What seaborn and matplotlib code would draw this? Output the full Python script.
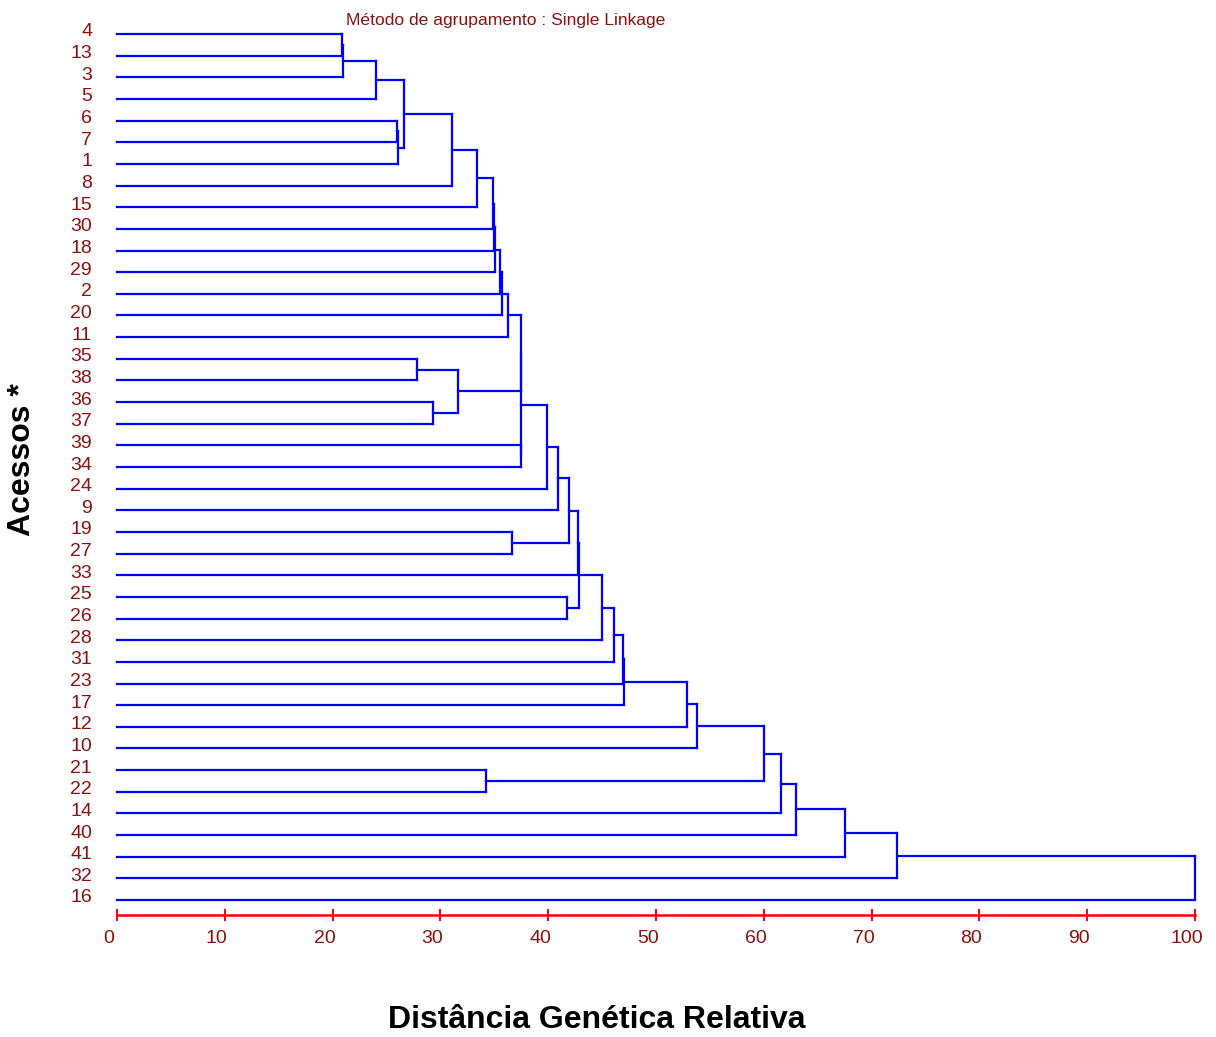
import matplotlib
matplotlib.use("Agg")
import matplotlib.pyplot as plt
import matplotlib.transforms as mtransforms
import seaborn as sns
import pandas as pd

# ---------------- data ----------------
leaves = ["4", "13", "3", "5", "6", "7", "1", "8", "15", "30", "18", "29", "2", "20",
          "11", "35", "38", "36", "37", "39", "34", "24", "9", "19", "27", "33", "25",
          "26", "28", "31", "23", "17", "12", "10", "21", "22", "14", "40", "41", "32", "16"]

merge_left = ["4", "m0", "m1", "6", "m3", "m2", "m5", "m6", "m7", "m8", "m9", "m10",
              "m11", "m12", "35", "36", "m14", "m13", "39", "m17", "m19", "m20", "19",
              "m21", "25", "m23", "m25", "m26", "m27", "m28", "m29", "m30", "m31", "21",
              "m32", "m34", "m35", "m36", "m37", "m38"]
merge_right = ["13", "3", "5", "7", "1", "m4", "8", "15", "30", "18", "29", "2",
               "20", "11", "38", "37", "m15", "m16", "34", "m18", "24", "9", "27",
               "m22", "26", "33", "m24", "28", "31", "23", "17", "12", "10", "22",
               "m33", "14", "40", "41", "32", "16"]
merge_height = [20.9, 21.0, 24.0, 26.0, 26.1, 26.6, 31.1, 33.4, 34.9, 35.0, 35.1, 35.5,
                35.7, 36.3, 27.8, 29.3, 31.6, 37.5, 37.5, 37.5, 39.9, 40.9, 36.6,
                41.9, 41.7, 42.8, 42.9, 45.0, 46.1, 46.9, 47.0, 52.9, 53.8, 34.2,
                60.0, 61.6, 63.0, 67.5, 72.4, 100.0]

x_ticks = [0, 10, 20, 30, 40, 50, 60, 70, 80, 90, 100]
title_text = "Método de agrupamento : Single Linkage"
x_label = "Distância Genética Relativa"
y_label = "Acessos *"

# ---------------- build dendrogram segments ----------------
pos = {name: float(i) for i, name in enumerate(leaves)}
hgt = {name: 0.0 for name in leaves}
rows = []
seg = 0
for k, (a, b, h) in enumerate(zip(merge_left, merge_right, merge_height)):
    ya, yb = pos[a], pos[b]
    for (x0, y0, x1, y1) in [(hgt[a], ya, h, ya), (hgt[b], yb, h, yb), (h, ya, h, yb)]:
        rows.append({"x": x0, "y": y0, "seg": seg})
        rows.append({"x": x1, "y": y1, "seg": seg})
        seg += 1
    name = f"m{k}"
    pos[name] = (ya + yb) / 2.0
    hgt[name] = h
df = pd.DataFrame(rows)

# ---------------- figure ----------------
sns.set_theme(style="white")
plt.rcParams["font.family"] = ["Liberation Sans Narrow", "Liberation Sans", "DejaVu Sans"]

W, H = 1216, 1037
fig = plt.figure(figsize=(W / 100, H / 100), dpi=100)
left_px, right_px, top_px, bot_px = 117, 1195, 20, 915
ax = fig.add_axes([left_px / W, 1 - bot_px / H, (right_px - left_px) / W, (bot_px - top_px) / H])

sns.lineplot(data=df, x="x", y="y", units="seg", estimator=None, sort=False,
             color="#0000ff", linewidth=1.6, ax=ax, legend=False)
for ln in ax.lines:
    ln.set_clip_on(False)
    ln.set_solid_capstyle("projecting")

ax.set_xlim(0, 100)
step = 21.65
ax.set_ylim((bot_px - 34) / step, (top_px - 34) / step)

for s in ["top", "right", "left"]:
    ax.spines[s].set_visible(False)
ax.spines["bottom"].set_color("#ff0000")
ax.spines["bottom"].set_linewidth(1.8)

dark_red = "#8b1010"
ax.set_xticks(x_ticks)
ax.set_xticklabels([str(t) for t in x_ticks])
ax.tick_params(axis="x", direction="inout", length=8, width=1.4, color="#ff0000",
               labelcolor=dark_red, labelsize=14, pad=7, bottom=True)
ax.set_yticks(range(len(leaves)))
ax.set_yticklabels(leaves)
ax.tick_params(axis="y", length=0, labelcolor=dark_red, labelsize=14, pad=18, left=True)
ax.set_xlabel("")
ax.set_ylabel("")

dx = mtransforms.ScaledTranslation(-8 / 100, 0, fig.dpi_scale_trans)
for lab in ax.get_xticklabels():
    lab.set_transform(lab.get_transform() + dx)
dy = mtransforms.ScaledTranslation(0, 4 / 100, fig.dpi_scale_trans)
for lab in ax.get_yticklabels():
    lab.set_transform(lab.get_transform() + dy)

fig.text(506 / W, 1 - 21 / H, title_text, ha="center", va="center",
         color=dark_red, fontsize=12.6)
fig.text(597 / W, 1 - 1020 / H, x_label, ha="center", va="center",
         fontsize=23, fontweight="bold", color="black",
         family=["Liberation Sans", "DejaVu Sans"])
fig.text(22 / W, 1 - 460 / H, y_label, ha="center", va="center", rotation=90,
         fontsize=23, fontweight="bold", color="black",
         family=["Liberation Sans", "DejaVu Sans"])

fig.savefig("out.png", dpi=100, facecolor="white")
